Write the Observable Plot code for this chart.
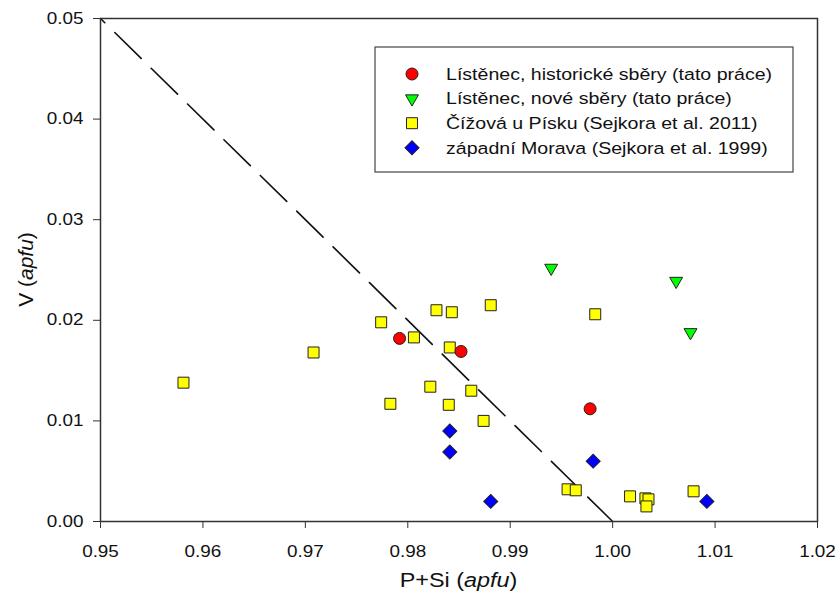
<!DOCTYPE html>
<html>
<head>
<meta charset="utf-8">
<script src="https://cdn.jsdelivr.net/npm/d3@7"></script>
<script src="https://cdn.jsdelivr.net/npm/@observablehq/plot@0.6"></script>
<style>
  body { margin: 0; background: #fff; }
  #chart svg { display: block; }
</style>
</head>
<body>
<div id="chart"></div>
<script>
// ---------- data ----------
const seriesNames = [
  "Lístěnec, historické sběry (tato práce)",
  "Lístěnec, nové sběry (tato práce)",
  "Čížová u Písku (Sejkora et al. 2011)",
  "západní Morava (Sejkora et al. 1999)"
];

const histX = [0.9792, 0.9852, 0.9978];
const histY = [0.0182, 0.0169, 0.0112];

const newX = [0.9940, 1.0062, 1.0076];
const newY = [0.0252, 0.0239, 0.0188];

const cizX = [0.9581, 0.9708, 0.9774, 0.9806, 0.9828, 0.9843, 0.9881, 0.9841, 0.9822, 0.9862,
              0.9783, 0.9840, 0.9874, 0.9983, 0.9956, 0.9964, 1.0017, 1.0032, 1.0035, 1.0033, 1.0079];
const cizY = [0.0138, 0.0168, 0.0198, 0.0183, 0.0210, 0.0208, 0.0215, 0.0173, 0.0134, 0.0130,
              0.0117, 0.0116, 0.0100, 0.0206, 0.0032, 0.0031, 0.0025, 0.0023, 0.0022, 0.0015, 0.0030];

const morX = [0.9841, 0.9841, 0.9881, 0.9981, 1.0092];
const morY = [0.0090, 0.0069, 0.0020, 0.0060, 0.0020];

const refLineX = [0.95, 1.00];
const refLineY = [0.05, 0.00];

const xTicks = [0.95, 0.96, 0.97, 0.98, 0.99, 1.00, 1.01, 1.02];
const yTicks = [0.00, 0.01, 0.02, 0.03, 0.04, 0.05];

const xTitle = ["P+Si (", "apfu", ")"];
const yTitle = ["V (", "apfu", ")"];

// ---------- chart ----------
const toRows = (xs, ys) => xs.map((x, i) => ({ x, y: ys[i] }));
const FONT = "Arial, 'Liberation Sans', sans-serif";
const ink = "#222";

const plot = Plot.plot({
  width: 840,
  height: 594,
  marginLeft: 100,
  marginRight: 23,
  marginTop: 18,
  marginBottom: 73,
  style: { fontFamily: FONT, fontSize: "16px", color: "#111", background: "#fff" },
  x: { domain: [0.95, 1.02] },
  y: { domain: [0, 0.05] },
  marks: [
    Plot.line(toRows(refLineX, refLineY), {
      x: "x", y: "y", stroke: "#111", strokeWidth: 1.6,
      strokeDasharray: "37,14", strokeDashoffset: 31
    }),
    Plot.dot(toRows(cizX, cizY), { x: "x", y: "y", symbol: "square", r: 6.2, fill: "#ffff00", stroke: ink, strokeWidth: 1 }),
    Plot.dot(toRows(histX, histY), { x: "x", y: "y", symbol: "circle", r: 6, fill: "#ff0000", stroke: ink, strokeWidth: 1 }),
    Plot.dot(toRows(newX, newY), { x: "x", y: "y", symbol: "triangle", r: 4.8, rotate: 180, fill: "#00ff00", stroke: ink, strokeWidth: 1 }),
    Plot.dot(toRows(morX, morY), { x: "x", y: "y", symbol: "square", r: 5.6, rotate: 45, fill: "#0000ff", stroke: ink, strokeWidth: 1 }),
    Plot.axisX({ ticks: xTicks, tickFormat: d3.format(".2f"), tickSize: 7, tickPadding: 17, label: null, stroke: "#333" }),
    Plot.axisY({ ticks: yTicks, tickFormat: d3.format(".2f"), tickSize: 7, tickPadding: 10, label: null, stroke: "#333" }),
    Plot.frame({ stroke: "#333", strokeWidth: 1.5 })
  ]
});

document.getElementById("chart").appendChild(plot);
const svg = d3.select(plot);

// widen tick label glyphs to match the reference typeface proportions
svg.selectAll('g[aria-label="x-axis tick label"] text, g[aria-label="y-axis tick label"] text').each(function () {
  const t = this.getAttribute("transform") || "";
  const x = this.getAttribute("x");
  let extra = "";
  if (x && parseFloat(x) !== 0) { extra = ` translate(${x},0)`; this.removeAttribute("x"); }
  this.setAttribute("transform", `${t}${extra} scale(1.18,1)`);
});

// axis titles
const xS = plot.scale("x"), yS = plot.scale("y");
const cx = (xS.range[0] + xS.range[1]) / 2;
const cy = (yS.range[0] + yS.range[1]) / 2;

const xt = svg.append("text")
  .attr("transform", `translate(${cx},587) scale(1.2,1)`)
  .attr("text-anchor", "middle")
  .attr("font-family", FONT).attr("font-size", 19.5).attr("fill", "#111");
xt.append("tspan").text(xTitle[0]);
xt.append("tspan").attr("font-style", "italic").text(xTitle[1]);
xt.append("tspan").text(xTitle[2]);

const yt = svg.append("text")
  .attr("transform", `translate(33,${cy}) rotate(-90)`)
  .attr("text-anchor", "middle")
  .attr("font-family", FONT).attr("font-size", 21).attr("fill", "#111");
yt.append("tspan").text(yTitle[0]);
yt.append("tspan").attr("font-style", "italic").text(yTitle[1]);
yt.append("tspan").text(yTitle[2]);

// legend
const legendStyles = [
  { type: d3.symbolCircle, r: 6, rot: 0, fill: "#ff0000" },
  { type: d3.symbolTriangle, r: 4.8, rot: 180, fill: "#00ff00" },
  { type: d3.symbolSquare, r: 6.2, rot: 0, fill: "#ffff00" },
  { type: d3.symbolSquare, r: 5.6, rot: 45, fill: "#0000ff" }
];
const lg = svg.append("g");
lg.append("rect")
  .attr("x", 375).attr("y", 47).attr("width", 418).attr("height", 125)
  .attr("fill", "#fff").attr("stroke", "#444").attr("stroke-width", 1.2);
seriesNames.forEach((name, i) => {
  const rowY = 74 + i * 24.6;
  const s = legendStyles[i];
  lg.append("path")
    .attr("d", d3.symbol().type(s.type).size(Math.PI * s.r * s.r)())
    .attr("transform", `translate(412,${rowY}) rotate(${s.rot})`)
    .attr("fill", s.fill).attr("stroke", ink).attr("stroke-width", 1);
  lg.append("text")
    .attr("transform", `translate(446,${rowY}) scale(1.2,1)`)
    .attr("dy", "0.35em")
    .attr("text-anchor", "start")
    .attr("font-family", FONT).attr("font-size", 16.3).attr("fill", "#111")
    .text(name);
});
</script>
</body>
</html>
